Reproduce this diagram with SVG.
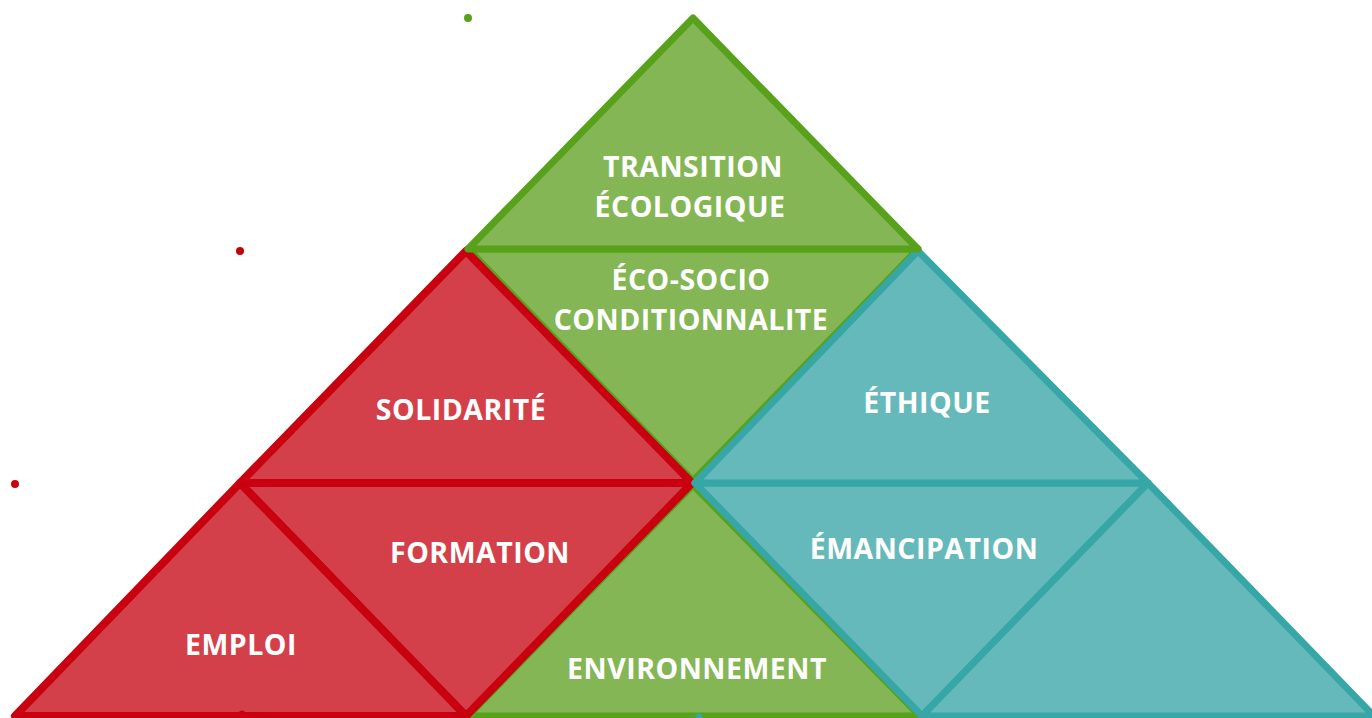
<svg xmlns="http://www.w3.org/2000/svg" width="1372" height="718" viewBox="0 0 1372 718">
<style>
.g{fill:#84b655;stroke:#58a11b;stroke-width:7;stroke-linejoin:round}
.r{fill:#d4404a;stroke:#c8000f;stroke-width:8;stroke-linejoin:round}
.t{fill:#66b9ba;stroke:#36a6a6;stroke-width:7;stroke-linejoin:round}
text{font-family:"Open Sans","Noto Sans","Liberation Sans",sans-serif;font-weight:bold;font-size:28.5px;letter-spacing:0.5px;fill:#ffffff;text-anchor:middle}
</style>
<rect width="1372" height="718" fill="#ffffff"/>
<g id="dots">
<circle cx="468" cy="18" r="4" fill="#58a11b"/>
<circle cx="240" cy="251" r="4" fill="#c8000f"/>
<circle cx="15" cy="484" r="4" fill="#c8000f"/>
</g>
<g id="eco-socio-shape"><polygon class="g" points="468,249 918,249 693,481"/></g>
<g id="environnement-shape"><polygon class="g" points="693,485 468,716 920,716"/></g>
<g id="formation"><polygon class="r" points="240,483 692,483 466,716"/><text x="480" y="563">FORMATION</text></g>
<g id="emploi"><polygon class="r" points="240,483 15,716 466,716"/><text x="241" y="655">EMPLOI</text></g>
<g id="solidarite"><polygon class="r" points="466,251 240,483 692,483"/><text x="461" y="420">SOLIDARITÉ</text></g>
<g id="emancipation"><polygon class="t" points="695,483 1148,483 922,716"/><text x="924" y="559">ÉMANCIPATION</text></g>
<g id="teal-corner"><polygon class="t" points="1148,483 922,716 1374,716"/></g>
<g id="ethique"><polygon class="t" points="918,251 695,483 1148,483"/><text x="927" y="413">ÉTHIQUE</text></g>
<g id="transition"><polygon class="g" points="693,18 468,249 918,249"/><text x="693" y="177">TRANSITION</text><text x="690" y="217">ÉCOLOGIQUE</text></g>
<g id="labels">
<text x="697" y="679">ENVIRONNEMENT</text>
<text x="691" y="290">ÉCO-SOCIO</text><text x="691" y="330">CONDITIONNALITE</text>
</g>
<g id="connectors"></g>
<g id="small-dots">
<circle cx="242" cy="714" r="3.5" fill="#c8000f"/>
<circle cx="699" cy="717" r="3.5" fill="#36a6a6"/>
</g>
</svg>
